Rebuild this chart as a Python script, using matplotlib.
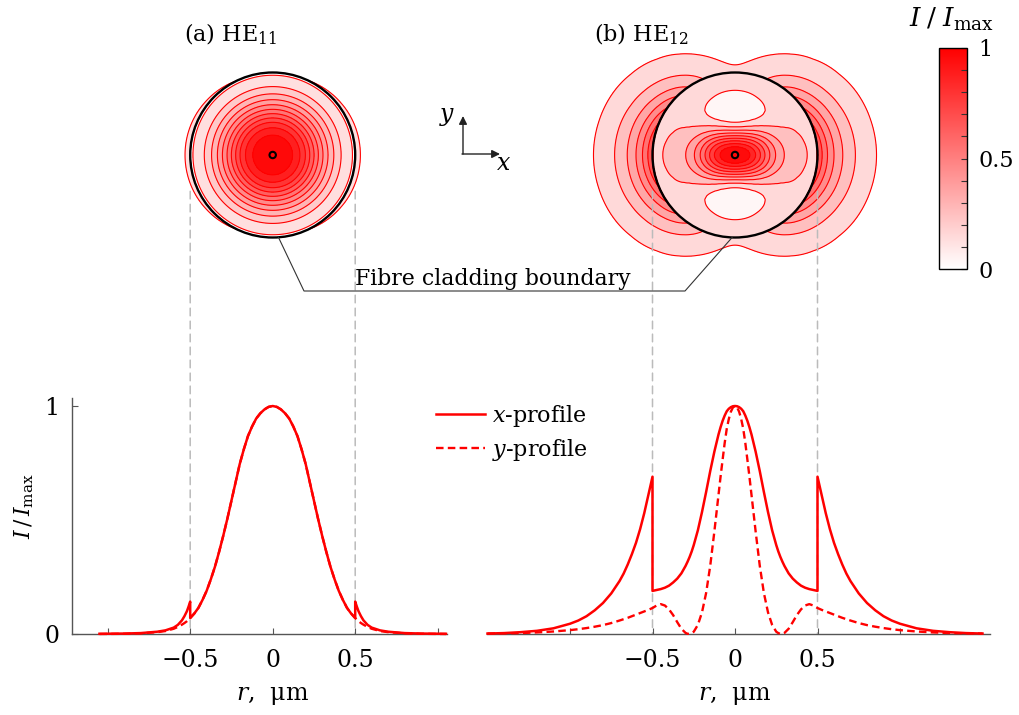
import numpy as np
import matplotlib.pyplot as plt
from matplotlib.colors import LinearSegmentedColormap, Normalize
from matplotlib.cm import ScalarMappable
from matplotlib.patches import Circle, ConnectionPatch
from matplotlib.lines import Line2D
from matplotlib.ticker import MultipleLocator

plt.rcParams['font.family'] = ['DejaVu Serif']
plt.rcParams['mathtext.fontset'] = 'dejavuserif'
plt.rcParams['font.size'] = 15.5

R_CORE = 0.5  # fibre radius, um

# HE11 intensity profiles, r >= 0 (core side, then cladding side of r = 0.5)
r11_core = [0.0, 0.025, 0.05, 0.075, 0.1, 0.125, 0.15, 0.175, 0.2, 0.225, 0.25,
            0.275, 0.3, 0.325, 0.35, 0.375, 0.4, 0.425, 0.45, 0.475, 0.5]
I11_core = [1.0, 0.996, 0.985, 0.968, 0.945, 0.91, 0.868, 0.81, 0.745, 0.665, 0.585,
            0.505, 0.43, 0.36, 0.295, 0.24, 0.19, 0.15, 0.115, 0.09, 0.07]
r11_clad = [0.5, 0.51, 0.52, 0.535, 0.55, 0.575, 0.6, 0.65, 0.7, 0.8, 0.9, 1.05]
I11x_clad = [0.142, 0.12, 0.10, 0.078, 0.06, 0.04, 0.028, 0.016, 0.010, 0.004, 0.002, 0.001]
I11y_clad = [0.07, 0.063, 0.056, 0.048, 0.041, 0.031, 0.023, 0.013, 0.008, 0.003, 0.001, 0.0]

# HE12 intensity profiles along x and y
r12_core = [0.0, 0.0125, 0.025, 0.0375, 0.05, 0.0625, 0.075, 0.0875, 0.1, 0.125, 0.15,
            0.175, 0.2, 0.225, 0.25, 0.2625, 0.275, 0.2875, 0.3, 0.325, 0.35, 0.375,
            0.4, 0.425, 0.45, 0.475, 0.5]
I12x_core = [1.0, 0.999, 0.995, 0.988, 0.977, 0.958, 0.935, 0.907, 0.875, 0.80, 0.715,
             0.623, 0.535, 0.455, 0.39, 0.362, 0.338, 0.317, 0.298, 0.266, 0.243, 0.226,
             0.212, 0.203, 0.197, 0.193, 0.189]
I12y_core = [1.0, 0.994, 0.975, 0.943, 0.90, 0.838, 0.765, 0.69, 0.61, 0.45, 0.30,
             0.18, 0.095, 0.04, 0.01, 0.004, 0.0005, 0.001, 0.005, 0.023, 0.052, 0.083,
             0.108, 0.125, 0.131, 0.125, 0.114]
r12_clad = [0.5, 0.525, 0.55, 0.575, 0.6, 0.625, 0.65, 0.675, 0.7, 0.75, 0.8, 0.85,
            0.9, 0.95, 1.0, 1.1, 1.2, 1.3, 1.4, 1.5]
I12x_clad = [0.69, 0.61, 0.53, 0.46, 0.40, 0.35, 0.305, 0.265, 0.232, 0.178, 0.136, 0.104,
             0.078, 0.059, 0.045, 0.025, 0.014, 0.008, 0.004, 0.002]
I12y_clad = [0.114, 0.106, 0.099, 0.092, 0.085, 0.078, 0.071, 0.065, 0.059, 0.048, 0.039,
             0.032, 0.026, 0.021, 0.017, 0.011, 0.007, 0.004, 0.003, 0.002]

xtick_vals = [-1, -0.5, 0, 0.5, 1]
xtick_text = ['', '\u22120.5', '0', '0.5', '']

W, H = 1019, 715
PX = 165.0   # pixels per micron
YS = 228.0   # pixels per unit intensity
RED = '#ff0000'
BIG = 17

cmap = LinearSegmentedColormap.from_list('white_red', ['#ffffff', RED])
norm = Normalize(0, 1)


def box(x0, y0, x1, y1):
    return [x0 / W, 1 - y1 / H, (x1 - x0) / W, (y1 - y0) / H]


def full_profile(rc, ic, rcl, icl):
    rc, ic, rcl, icl = map(np.asarray, (rc, ic, rcl, icl))
    r = np.concatenate([-rcl[::-1], -rc[::-1], rc[1:], rcl])
    i = np.concatenate([icl[::-1], ic[::-1], ic[1:], icl])
    return r, i


def mode_map(X, Y, rc, ixc, iyc, rcl, ixcl, iycl):
    rho = np.hypot(X, Y)
    c2 = np.where(rho > 0, X**2 / np.where(rho > 0, rho, 1)**2, 1.0)
    inside = rho < R_CORE
    ix = np.where(inside, np.interp(rho, rc, ixc), np.interp(rho, rcl, ixcl, right=0))
    iy = np.where(inside, np.interp(rho, rc, iyc), np.interp(rho, rcl, iycl, right=0))
    return ix * c2 + iy * (1 - c2)


fig = plt.figure(figsize=(W / 100, H / 100), dpi=100)

# mode maps
HALF = 150
modes = [
    (272.7, (r11_core, I11_core, I11_core, r11_clad, I11x_clad, I11y_clad),
     np.arange(1, 12) / 12, False),
    (735.0, (r12_core, I12x_core, I12y_core, r12_clad, I12x_clad, I12y_clad),
     np.arange(1, 10) / 10, True),
]
top_axes = []
for cx, prof, levels, tint in modes:
    ax = fig.add_axes(box(cx - HALF, 155 - HALF, cx + HALF, 155 + HALF))
    lim = HALF / PX
    ax.set_xlim(-lim, lim)
    ax.set_ylim(-lim, lim)
    ax.axis('off')
    g = np.linspace(-lim, lim, 801)
    X, Y = np.meshgrid(g, g)
    Z = mode_map(X, Y, *prof)
    if tint:
        low = ax.contourf(X, Y, Z, levels=[0, levels[0]], colors=['#fff6f6'])
        low.set_clip_path(Circle((0, 0), R_CORE, transform=ax.transData))
    ax.contourf(X, Y, Z, levels=list(levels) + [1.01], cmap=cmap, norm=norm)
    ax.contour(X, Y, Z, levels=levels, colors=RED, linewidths=0.8)
    ax.add_patch(Circle((0, 0), R_CORE, fill=False, ec='black', lw=1.7, zorder=4))
    ax.add_patch(Circle((0, 0), 3.2 / PX, fill=False, ec='black', lw=1.5, zorder=4))
    top_axes.append(ax)
ax_a, ax_b = top_axes

# radial profiles
ax_l = fig.add_axes(box(72, 398, 447, 634))
ax_l.set_xlim((72 - 272.7) / PX, (447 - 272.7) / PX)
ax_r = fig.add_axes(box(487, 398, 990, 634))
ax_r.set_xlim((487 - 735.0) / PX, (990 - 735.0) / PX)

curves = [
    (ax_l, full_profile(r11_core, I11_core, r11_clad, I11x_clad),
     full_profile(r11_core, I11_core, r11_clad, I11y_clad)),
    (ax_r, full_profile(r12_core, I12x_core, r12_clad, I12x_clad),
     full_profile(r12_core, I12y_core, r12_clad, I12y_clad)),
]
for ax, (rx, ix), (ry, iy) in curves:
    ax.plot(ry, iy, color=RED, lw=1.7, ls=(0, (3.2, 1.8)), clip_on=False, zorder=3)
    ax.plot(rx, ix, color=RED, lw=1.8, clip_on=False, zorder=3)
    ax.set_ylim(0, (634 - 398) / YS)
    for side in ('top', 'right'):
        ax.spines[side].set_visible(False)
    for side in ('left', 'bottom'):
        ax.spines[side].set_color('#555555')
        ax.spines[side].set_linewidth(1.0)
    ax.set_xticks(xtick_vals)
    ax.set_xticklabels(xtick_text)
    ax.tick_params(axis='x', direction='in', length=4, width=0.8, color='#555555',
                   pad=11, labelsize=BIG)
    ax.set_xlabel(r'$r$,  μm', fontsize=BIG)
    x0, x1 = ax.get_xlim()
    ax.xaxis.set_label_coords((0 - x0) / (x1 - x0), -0.21)
    ax.patch.set_alpha(0)

ax_l.set_yticks([0, 1])
ax_l.set_yticklabels(['0', '1'])
ax_l.tick_params(axis='y', direction='in', length=4, width=0.8, color='#555555',
                 pad=9, labelsize=BIG)
ax_l.set_ylabel(r'$I\,/\,I_{\mathrm{max}}$', fontsize=15.7)
ax_l.yaxis.set_label_coords(-0.095, 0.54)
ax_r.spines['left'].set_visible(False)
ax_r.set_yticks([])

# guides from the core edge down to the profiles
for ax_top, ax_bot in ((ax_a, ax_l), (ax_b, ax_r)):
    for s in (-1, 1):
        cp = ConnectionPatch((s * R_CORE, -0.22), (s * R_CORE, 0),
                             coordsA=ax_top.transData, coordsB=ax_bot.transData,
                             color='#bbbbbb', lw=1.1, ls=(0, (5, 3.5)),
                             clip_on=False, zorder=1)
        ax_bot.add_artist(cp)

# colour bar
cax = fig.add_axes(box(939, 48, 967, 269))
cb = fig.colorbar(ScalarMappable(norm=norm, cmap=cmap), cax=cax)
cb.set_ticks([0, 0.5, 1])
cb.set_ticklabels(['0', '0.5', '1'])
cax.yaxis.set_minor_locator(MultipleLocator(0.1))
cax.tick_params(which='both', direction='in', length=4, width=0.8, color='#333333')
cax.tick_params(which='major', pad=8, labelsize=16)
cb.outline.set_linewidth(1.0)

# annotation layer in pixel coordinates
over = fig.add_axes([0, 0, 1, 1], zorder=5)
over.set_xlim(0, W)
over.set_ylim(H, 0)
over.axis('off')

over.text(231, 41, r'(a) HE$_{11}$', ha='center', va='baseline', fontsize=16)
over.text(641, 41, r'(b) HE$_{12}$', ha='center', va='baseline', fontsize=16)
over.text(951, 27, r'$I\;/\;I_{\mathrm{max}}$', ha='center', va='baseline', fontsize=19)

# x/y orientation arrows
arw = dict(arrowstyle='-|>', color='#222222', lw=1.0, mutation_scale=12,
           shrinkA=0, shrinkB=0)
over.annotate('', xy=(463, 116), xytext=(463, 154), arrowprops=arw)
over.annotate('', xy=(500, 154), xytext=(462, 154), arrowprops=arw)
over.text(447, 117, r'$y$', ha='center', va='center', fontsize=BIG)
over.text(503, 164, r'$x$', ha='center', va='center', fontsize=BIG)

# cladding boundary callout
to_px = over.transData.inverted()
pa = to_px.transform(ax_a.transData.transform(
    (R_CORE * np.cos(np.radians(-86)), R_CORE * np.sin(np.radians(-86)))))
pb = to_px.transform(ax_b.transData.transform(
    (R_CORE * np.cos(np.radians(-92)), R_CORE * np.sin(np.radians(-92)))))
over.plot([pa[0], 304, 685, pb[0]], [pa[1], 291, 291, pb[1]],
          color='#333333', lw=0.8)
over.text(492.5, 285, 'Fibre cladding boundary', ha='center', va='baseline',
          fontsize=15.8)

handles = [Line2D([], [], color=RED, lw=1.8),
           Line2D([], [], color=RED, lw=1.7, ls=(0, (3.2, 1.8)))]
over.legend(handles, [r'$x$-profile', r'$y$-profile'], loc='upper left',
            bbox_to_anchor=(436, 403), bbox_transform=over.transData,
            frameon=False, borderpad=0, borderaxespad=0, handlelength=2.2,
            handletextpad=0.3, labelspacing=0.35, fontsize=16)

fig.savefig('out.png', dpi=100)
